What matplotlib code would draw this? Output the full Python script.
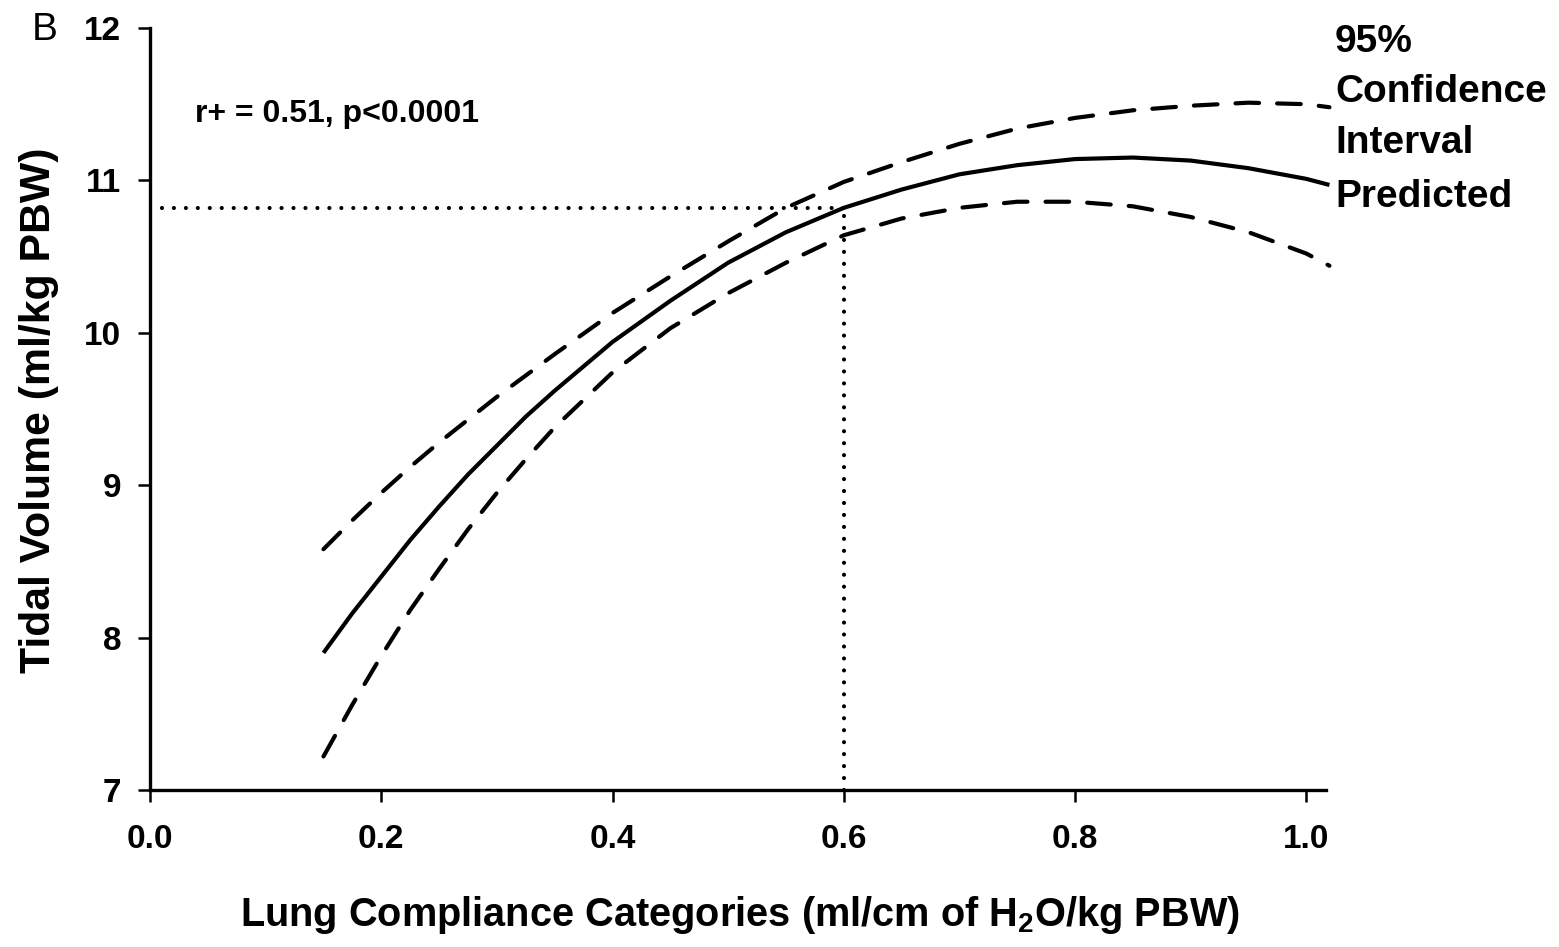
import matplotlib
matplotlib.use("Agg")
import matplotlib.pyplot as plt

# ---- data ----
compliance = [0.15, 0.175, 0.20, 0.225, 0.25, 0.275, 0.30, 0.325, 0.35, 0.40,
              0.45, 0.50, 0.55, 0.60, 0.65, 0.70, 0.75, 0.80, 0.85, 0.90,
              0.95, 1.00, 1.02]
predicted = [7.90, 8.16, 8.40, 8.64, 8.86, 9.07, 9.26, 9.45, 9.62, 9.94,
             10.21, 10.46, 10.66, 10.82, 10.94, 11.04, 11.10, 11.14, 11.15,
             11.13, 11.08, 11.01, 10.97]
ci_upper = [8.58, 8.77, 8.95, 9.12, 9.28, 9.43, 9.58, 9.72, 9.86, 10.13,
            10.37, 10.60, 10.82, 10.99, 11.12, 11.24, 11.34, 11.41, 11.46,
            11.49, 11.51, 11.50, 11.48]
ci_lower = [7.22, 7.56, 7.88, 8.18, 8.45, 8.71, 8.95, 9.17, 9.38, 9.74,
            10.03, 10.26, 10.46, 10.64, 10.75, 10.82, 10.86, 10.86, 10.83,
            10.76, 10.66, 10.52, 10.44]
ref_x = 0.6
ref_y = 10.82
x_ticks = [0.0, 0.2, 0.4, 0.6, 0.8, 1.0]
x_ticklabels = ["0.0", "0.2", "0.4", "0.6", "0.8", "1.0"]
y_ticks = [7, 8, 9, 10, 11, 12]
y_ticklabels = ["7", "8", "9", "10", "11", "12"]

plt.rcParams['font.family'] = ['Liberation Sans', 'DejaVu Sans']
plt.rcParams['font.weight'] = 'bold'
plt.rcParams['mathtext.fontset'] = 'custom'
plt.rcParams['mathtext.bf'] = 'Liberation Sans:bold'
plt.rcParams['mathtext.rm'] = 'Liberation Sans:bold'
plt.rcParams['mathtext.default'] = 'bf'
plt.rcParams['lines.scale_dashes'] = False

W, H = 1559, 947
fig = plt.figure(figsize=(W / 100, H / 100), dpi=100)
ax_l, ax_r, ax_t, ax_b = 150, 1326, 28, 790
ax = fig.add_axes([ax_l / W, (H - ax_b) / H, (ax_r - ax_l) / W, (ax_b - ax_t) / H])

ax.set_xlim(0, 1.017)
ax.set_ylim(7, 12)

# curves
ax.plot(compliance, predicted, color='black', lw=3.0, solid_capstyle='butt',
        solid_joinstyle='round', clip_on=False)
for ci in (ci_upper, ci_lower):
    ax.plot(compliance, ci, color='black', lw=3.0, linestyle=(0, (17, 13)),
            dash_capstyle='round', dash_joinstyle='round', clip_on=False)

# reference dotted lines
ax.plot([0, ref_x], [ref_y, ref_y], color='black', lw=3.0,
        linestyle=(0, (0.01, 8.6)), dash_capstyle='round')
ax.plot([ref_x, ref_x], [7, ref_y], color='black', lw=3.0,
        linestyle=(0, (0.01, 8.6)), dash_capstyle='round')

# spines & ticks
for s in ('top', 'right'):
    ax.spines[s].set_visible(False)
for s in ('left', 'bottom'):
    ax.spines[s].set_linewidth(2.4)
ax.set_xticks(x_ticks)
ax.set_xticklabels(x_ticklabels)
ax.set_yticks(y_ticks)
ax.set_yticklabels(y_ticklabels)
ax.tick_params(axis='both', direction='out', length=8.6, width=1.8,
               labelsize=24)
ax.tick_params(axis='y', pad=12)
ax.tick_params(axis='x', pad=16)
for lab in ax.get_xticklabels() + ax.get_yticklabels():
    lab.set_fontweight('bold')

def ax_frac(px, py):
    return (px - ax_l) / (ax_r - ax_l), (ax_b - py) / (ax_b - ax_t)

# axis labels
ax.set_xlabel(r'Lung Compliance Categories (ml/cm of H$_{2}$O/kg PBW)',
              fontsize=28.6, fontweight='bold', va='center')
ax.xaxis.set_label_coords(*ax_frac(740, 915))
ax.set_ylabel('Tidal Volume (ml/kg PBW)', fontsize=30.8, fontweight='bold',
              va='center')
ax.yaxis.set_label_coords(*ax_frac(39, 410))

# annotations
ax.text(*ax_frac(195, 122), 'r+ = 0.51, p<0.0001', transform=ax.transAxes,
        fontsize=23, fontweight='bold', ha='left', va='baseline')
for txt, base in (('95%', 52), ('Confidence', 102), ('Interval', 153),
                  ('Predicted', 207)):
    ax.text(*ax_frac(1335, base), txt, transform=ax.transAxes, fontsize=28,
            fontweight='bold', ha='left', va='baseline', clip_on=False)

fig.text(45 / W, 1 - 30 / H, 'B', fontsize=28, fontweight='normal',
         ha='center', va='center')

fig.savefig('out.png', dpi=100, facecolor='white')
